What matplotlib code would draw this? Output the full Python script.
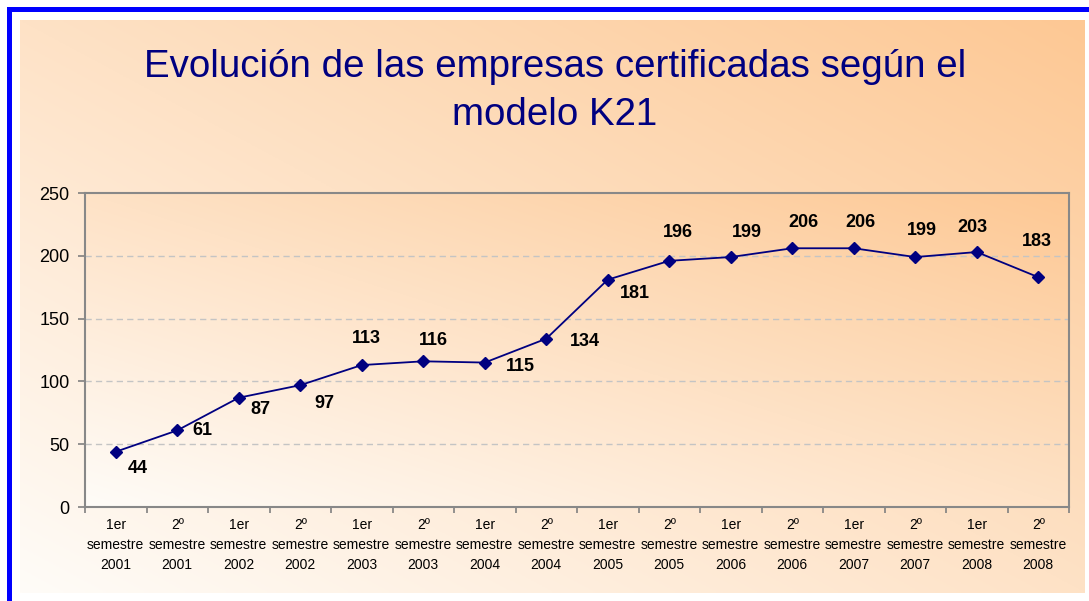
import numpy as np
import matplotlib
matplotlib.use("Agg")
import matplotlib.pyplot as plt
from matplotlib.patches import Rectangle

plt.rcParams['font.family'] = ['Liberation Sans', 'DejaVu Sans']

# data
semestres = ["1er", "2º"] * 8
anios = [2001, 2001, 2002, 2002, 2003, 2003, 2004, 2004,
         2005, 2005, 2006, 2006, 2007, 2007, 2008, 2008]
empresas = [44, 61, 87, 97, 113, 116, 115, 134,
            181, 196, 199, 206, 206, 199, 203, 183]

etiquetas = ["%s\nsemestre\n%d" % (s, a) for s, a in zip(semestres, anios)]

# label offsets in pixels (x right, y up) as placed in the original
offs = [(22, -17), (25, 0), (22, -12), (24, -18), (5, 27), (10, 21),
        (36, -4), (39, -3), (27, -14), (9, 28), (16, 25), (11, 26),
        (7, 26), (7, 27), (-4, 25), (-1, 36)]

W, H = 1089, 601
navy = "#000080"


def gradient(n=200, m=300, lo=(255, 252, 248), hi=(253, 200, 148)):
    u = np.linspace(0, 1, m)[None, :]
    v = np.linspace(1, 0, n)[:, None]
    t = (u + v) / 2.0
    lo = np.array(lo) / 255.0
    hi = np.array(hi) / 255.0
    return lo + t[..., None] * (hi - lo)


fig = plt.figure(figsize=(W / 100, H / 100), dpi=100)
fig.patch.set_facecolor("white")

# background gradient of the slide
bg = fig.add_axes([20 / W, 8 / H, 1065 / W, 573 / H])
bg.imshow(gradient(), aspect="auto", extent=[0, 1, 0, 1])
bg.set_axis_off()
bg.set_zorder(-10)

# blue frame (cut on right and bottom)
fig.add_artist(Rectangle((7 / W, 0), 5 / W, 1 - 7 / H, transform=fig.transFigure,
                         color="#0000ff", lw=0))
fig.add_artist(Rectangle((7 / W, 1 - 12 / H), 1 - 7 / W, 5 / H, transform=fig.transFigure,
                         color="#0000ff", lw=0))

ax = fig.add_axes([85 / W, 1 - 507 / H, (1069 - 85) / W, (507 - 193) / H])
ax.set_zorder(1)
ax.patch.set_alpha(0)

x = np.arange(len(empresas))
ax.imshow(gradient(), aspect="auto", extent=[-0.5, len(x) - 0.5, 0, 250], zorder=0)

for y in [50, 100, 150, 200]:
    ax.axhline(y, color="#c4c4c4", lw=1.0, dashes=(4.5, 3), zorder=1)

ax.plot(x, empresas, color=navy, lw=1.3, marker="D", markersize=6,
        markerfacecolor=navy, markeredgecolor=navy, zorder=3)

for i, v in enumerate(empresas):
    dx, dy = offs[i]
    ax.annotate(str(v), (i, v), xytext=(dx, dy), textcoords="offset pixels",
                ha="center", va="center", fontsize=13, fontweight="bold",
                color="black", zorder=4)

ax.set_xlim(-0.5, len(x) - 0.5)
ax.set_ylim(0, 250)
ax.set_yticks(range(0, 251, 50))
ax.set_xticks(np.arange(-0.5, len(x), 1.0))
ax.set_xticklabels([])
ax.set_xticks(x, minor=True)
ax.set_xticklabels(etiquetas, minor=True, fontsize=10, linespacing=1.55)
ax.tick_params(axis="x", which="major", length=4, color="#808080", width=1.2)
ax.tick_params(axis="x", which="minor", length=0, pad=8)
ax.tick_params(axis="y", length=5, color="#808080", width=1.2, labelsize=13, pad=6)

for s in ax.spines.values():
    s.set_color("#888888")
    s.set_linewidth(1.5)

fig.text(555 / W, 1 - 91 / H,
         "Evolución de las empresas certificadas según el\nmodelo K21",
         ha="center", va="center", fontsize=27.7, color=navy, linespacing=1.45)

fig.savefig("out.png", dpi=100)
